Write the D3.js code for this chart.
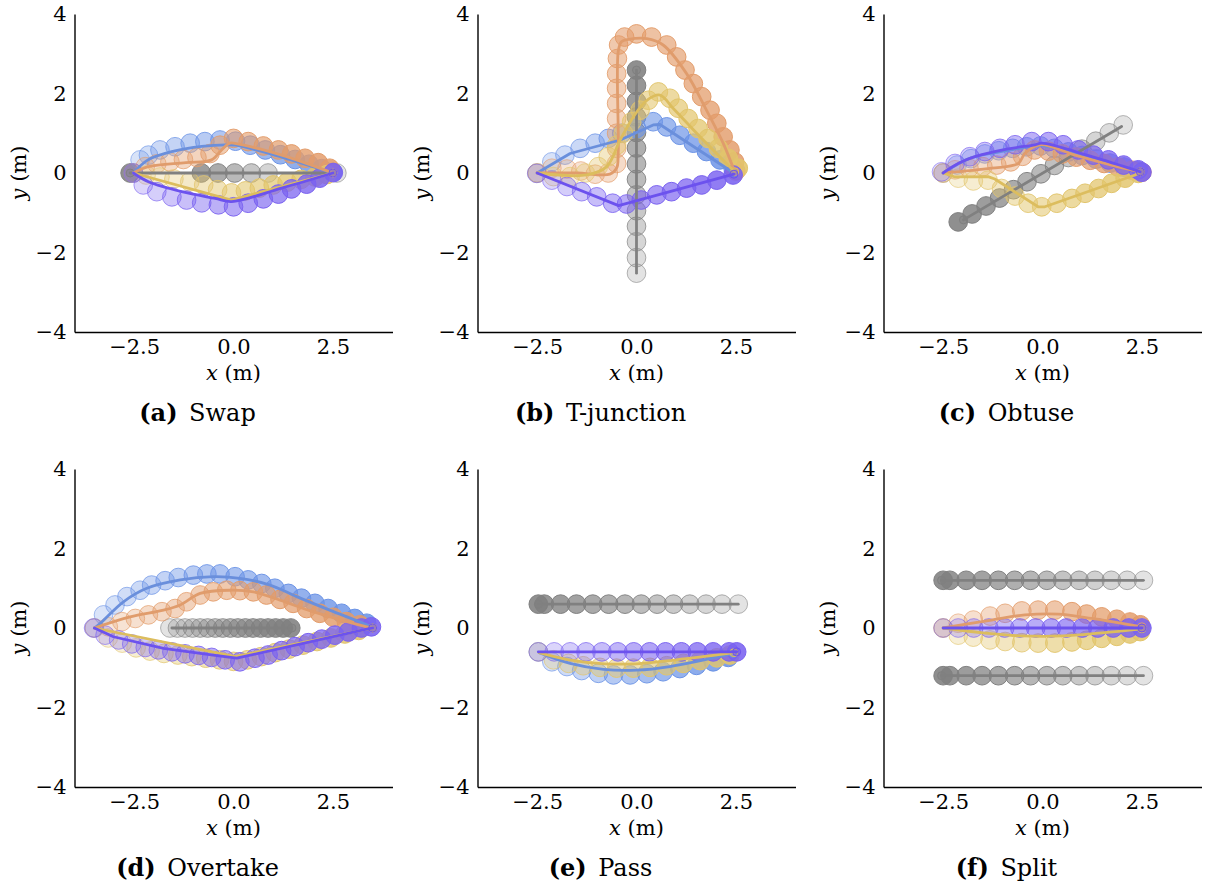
<!DOCTYPE html>
<html>
<head>
<meta charset="utf-8">
<script src="https://cdn.jsdelivr.net/npm/d3@7"></script>
<style>
body { margin: 0; background: #fff; }
text { font-family: "DejaVu Serif", serif; fill: #000; }
</style>
</head>
<body>
<svg id="fig" width="1206" height="888"></svg>
<script>
// tick values
var xTicks = [-2.5, 0, 2.5];
var yTicks = [-4, -2, 0, 2, 4];
var panelLetters = ["a", "b", "c", "d", "e", "f"];
var panelNames = ["Swap", "T-junction", "Obtuse", "Overtake", "Pass", "Split"];

// (a) swap : circles = sampled positions, *Path = drawn trajectory line
var swapGray = [[2.6,0],[0.87,0],[0.45,0],[0.03,0],[-0.39,0],[-0.81,0],[-2.6,0]];
var swapGrayPath = [[2.55,0],[-2.6,0]];
var swapBlue = [[-2.52,0],[-2.35,0.33],[-2.14,0.45],[-1.85,0.58],[-1.47,0.66],[-1.09,0.75],[-0.72,0.79],[-0.34,0.83],[0.05,0.8],[0.42,0.7],[0.8,0.58],[1.18,0.46],[1.55,0.34],[1.9,0.22],[2.22,0.11],[2.5,0.02]];
var swapBluePath = [[-2.52,0],[-2.15,0.33],[-1.5,0.55],[-0.8,0.67],[-0.2,0.71],[0.05,0.7],[1.04,0.45],[2.5,0]];
var swapOrange = [[-2.52,0],[-2.22,0.16],[-1.93,0.23],[-1.6,0.28],[-1.26,0.34],[-0.92,0.39],[-0.59,0.49],[-0.34,0.7],[0,0.87],[0.37,0.79],[0.75,0.68],[1.13,0.58],[1.46,0.48],[1.8,0.37],[2.13,0.26],[2.42,0.12]];
var swapOrangePath = [[-2.52,0],[-2.14,0.16],[-1.2,0.26],[-0.55,0.33],[-0.3,0.58],[-0.09,0.75],[0.1,0.73],[1.21,0.45],[2.5,0]];
var swapYellow = [[-2.2,-0.05],[-1.85,-0.1],[-1.5,-0.15],[-1.1,-0.22],[-0.75,-0.3],[-0.4,-0.42],[-0.05,-0.5],[0.3,-0.45],[0.65,-0.38],[1.0,-0.3],[1.35,-0.23],[1.7,-0.16],[2.05,-0.1],[2.35,-0.04]];
var swapYellowPath = [[-2.52,0],[-0.05,-0.68],[2.5,0]];
var swapPurple = [[-2.52,0],[-2.27,-0.3],[-1.93,-0.47],[-1.55,-0.6],[-1.18,-0.68],[-0.8,-0.75],[-0.38,-0.8],[0,-0.85],[0.37,-0.76],[0.75,-0.65],[1.13,-0.53],[1.46,-0.4],[1.84,-0.28],[2.17,-0.13],[2.51,0.01]];
var swapPurplePath = [[-2.52,0],[-2.14,-0.22],[-1.3,-0.47],[-0.46,-0.64],[-0.05,-0.72],[1.21,-0.38],[2.5,0]];

// (b) T-junction
var tjGray = [[0,-2.52],[0,-2.13],[0,-1.73],[0,-1.34],[0,-0.95],[0,-0.55],[0,-0.16],[0,0.23],[0,0.63],[0,1.02],[0,1.41],[0,1.8],[0,2.2],[0,2.59]];
var tjGrayPath = [[0,-2.52],[0,2.59]];
var tjBlue = [[-2.5,0],[-2.13,0.28],[-1.8,0.45],[-1.42,0.62],[-1.04,0.75],[-0.71,0.87],[-0.37,1.0],[0,1.12],[0.42,1.29],[0.76,1.16],[1.09,0.95],[1.43,0.75],[1.76,0.54],[2.1,0.33],[2.43,0.12]];
var tjBluePath = [[-2.5,0],[-1.67,0.49],[-0.41,0.83],[0.42,1.21],[0.59,1.22],[2.45,0]];
var tjOrange = [[-2.5,0],[-2.13,0.12],[-1.75,0.1],[-1.4,0.05],[-1.04,-0.03],[-0.71,0],[-0.5,0.24],[-0.5,0.62],[-0.5,1.0],[-0.5,1.37],[-0.5,1.75],[-0.5,2.13],[-0.5,2.5],[-0.48,2.88],[-0.45,3.22],[-0.3,3.42],[0,3.5],[0.38,3.42],[0.76,3.22],[1.01,2.92],[1.22,2.59],[1.43,2.25],[1.64,1.92],[1.85,1.58],[2.02,1.25],[2.18,0.91],[2.35,0.58],[2.47,0.28],[2.5,0.05]];
var tjOrangePath = [[-2.5,0],[-1.5,0],[-0.67,-0.03],[-0.5,0.12],[-0.46,0.5],[-0.46,3.05],[-0.38,3.3],[-0.2,3.36],[0.26,3.38],[0.67,3.22],[1.26,2.5],[1.76,1.58],[2.18,0.75],[2.47,0.03]];
var tjYellow = [[-2.5,0],[-2.09,-0.09],[-1.67,-0.09],[-1.29,0],[-0.96,0.16],[-0.71,0.41],[-0.5,0.7],[-0.33,1.0],[-0.12,1.29],[0.09,1.58],[0.3,1.83],[0.55,2.04],[0.84,1.88],[1.05,1.63],[1.3,1.37],[1.55,1.12],[1.8,0.87],[2.06,0.62],[2.31,0.37],[2.56,0.12]];
var tjYellowPath = [[-2.5,0],[-1.25,-0.05],[-0.75,0.16],[-0.41,0.83],[-0.08,1.41],[0.26,1.83],[0.59,1.96],[0.92,1.63],[1.6,0.91],[2.47,0.03]];
var tjPurple = [[-2.51,-0.01],[-2.13,-0.18],[-1.75,-0.34],[-1.38,-0.47],[-1.0,-0.6],[-0.6,-0.76],[-0.25,-0.78],[0.12,-0.68],[0.51,-0.55],[0.88,-0.47],[1.26,-0.38],[1.64,-0.3],[2.02,-0.18],[2.43,-0.05]];
var tjPurplePath = [[-2.5,0],[-0.45,-0.82],[2.45,-0.03]];

// (c) obtuse
var obGray = [[2.03,1.21],[1.68,1.01],[1.34,0.8],[0.99,0.6],[0.65,0.39],[0.3,0.19],[-0.04,-0.02],[-0.39,-0.22],[-0.73,-0.42],[-1.08,-0.63],[-1.42,-0.83],[-1.77,-1.03],[-2.12,-1.23]];
var obGrayPath = [[1.99,1.17],[-1.99,-1.18]];
var obBlue = [[-2.5,0],[-2.15,0.2],[-1.8,0.36],[-1.45,0.48],[-1.1,0.56],[-0.75,0.62],[-0.4,0.66],[-0.05,0.68],[0.3,0.62],[0.65,0.53],[1.0,0.44],[1.35,0.35],[1.7,0.25],[2.05,0.15],[2.4,0.05]];
var obBluePath = [[-2.5,0],[-1.8,0.38],[-0.9,0.56],[0,0.68],[1.2,0.38],[2.46,0.03]];
var obOrange = [[-2.5,0],[-2.2,0.08],[-1.85,0.12],[-1.5,0.16],[-1.15,0.2],[-0.8,0.28],[-0.5,0.42],[-0.2,0.58],[0.15,0.55],[0.5,0.48],[0.85,0.4],[1.2,0.32],[1.55,0.24],[1.9,0.15],[2.25,0.07],[2.5,0.02]];
var obOrangePath = [[-2.5,0],[-1.28,0.12],[-0.61,0.24],[-0.44,0.5],[-0.06,0.71],[0.82,0.45],[1.74,0.2],[2.46,0.03]];
var obYellow = [[-2.5,0],[-2.12,-0.13],[-1.74,-0.2],[-1.37,-0.18],[-1.03,-0.39],[-0.69,-0.58],[-0.36,-0.76],[-0.02,-0.85],[0.36,-0.76],[0.74,-0.64],[1.07,-0.51],[1.41,-0.39],[1.74,-0.26],[2.08,-0.13],[2.41,-0.01]];
var obYellowPath = [[-2.5,0],[-2.2,-0.1],[-1.37,-0.09],[-1.2,-0.15],[-0.11,-0.85],[0.06,-0.85],[2.33,-0.05],[2.46,0.03]];
var obPurple = [[-2.54,0.03],[-2.2,0.24],[-1.83,0.41],[-1.45,0.54],[-1.07,0.62],[-0.69,0.71],[-0.27,0.79],[0.15,0.79],[0.52,0.71],[0.9,0.58],[1.28,0.45],[1.66,0.33],[2.04,0.2],[2.41,0.08],[2.5,0.02]];
var obPurplePath = [[-2.5,0],[-2.1,0.25],[-1.7,0.41],[-0.9,0.6],[-0.19,0.71],[-0.02,0.75],[1.24,0.41],[2.46,0.03]];

// (d) overtake
var otGray = [[-1.6,0],[-1.41,0],[-1.22,0],[-1.03,0],[-0.84,0],[-0.65,0],[-0.46,0],[-0.27,0],[-0.08,0],[0.11,0],[0.3,0],[0.49,0],[0.68,0],[0.87,0],[1.06,0],[1.25,0],[1.44,0]];
var otGrayPath = [[-1.55,0],[1.47,0]];
var otBlue = [[-3.5,0],[-3.27,0.33],[-2.98,0.58],[-2.68,0.79],[-2.35,0.95],[-2.06,1.08],[-1.72,1.19],[-1.39,1.27],[-1.01,1.33],[-0.67,1.36],[-0.34,1.36],[0.04,1.29],[0.37,1.21],[0.71,1.12],[1.04,1.0],[1.38,0.87],[1.71,0.75],[2.05,0.62],[2.38,0.49],[2.72,0.37],[3.05,0.24],[3.35,0.12]];
var otBluePath = [[-3.5,0],[-3.35,0.12],[-2.77,0.66],[-2.18,1.0],[-1.34,1.21],[-0.51,1.29],[0.16,1.25],[0.92,1.08],[1.59,0.79],[2.42,0.45],[3.35,0.08],[3.5,0]];
var otOrange = [[-3.5,0],[-3.15,0.03],[-2.81,0.16],[-2.47,0.24],[-2.14,0.33],[-1.8,0.41],[-1.47,0.49],[-1.18,0.66],[-0.84,0.83],[-0.51,0.91],[-0.17,0.95],[0.16,0.94],[0.5,0.91],[0.83,0.83],[1.17,0.72],[1.5,0.62],[1.84,0.49],[2.17,0.37],[2.51,0.27],[2.84,0.16],[3.18,0.08]];
var otOrangePath = [[-3.5,0],[-2.6,0.28],[-1.76,0.45],[-1.34,0.58],[-0.84,0.87],[-0.09,0.95],[0.5,0.91],[1.17,0.7],[2.0,0.41],[3.35,0.03],[3.5,0]];
var otYellow = [[-3.15,-0.25],[-2.8,-0.38],[-2.45,-0.5],[-2.1,-0.58],[-1.75,-0.64],[-1.4,-0.68],[-1.05,-0.72],[-0.7,-0.76],[-0.35,-0.8],[0,-0.84],[0.35,-0.8],[0.7,-0.72],[1.05,-0.62],[1.4,-0.53],[1.75,-0.43],[2.1,-0.34],[2.45,-0.25],[2.8,-0.15],[3.15,-0.06]];
var otYellowPath = [[-3.5,0],[0.05,-0.72],[3.5,0]];
var otPurple = [[-3.52,0],[-3.23,-0.18],[-2.89,-0.3],[-2.56,-0.4],[-2.22,-0.49],[-1.89,-0.55],[-1.55,-0.6],[-1.22,-0.65],[-0.88,-0.69],[-0.55,-0.74],[-0.21,-0.8],[0.16,-0.85],[0.54,-0.76],[0.87,-0.68],[1.21,-0.57],[1.55,-0.47],[1.88,-0.37],[2.22,-0.28],[2.55,-0.18],[2.89,-0.1],[3.22,0],[3.47,0.03]];
var otPurplePath = [[-3.5,0],[-3.02,-0.22],[-1.76,-0.51],[-0.51,-0.68],[0.08,-0.76],[3.35,-0.03],[3.5,0]];

// (e) pass
var paGray = [[2.56,0.6],[2.15,0.6],[1.75,0.6],[1.34,0.6],[0.93,0.6],[0.52,0.6],[0.12,0.6],[-0.29,0.6],[-0.7,0.6],[-1.1,0.6],[-1.51,0.6],[-1.91,0.6],[-2.32,0.6],[-2.47,0.6]];
var paGrayPath = [[2.56,0.6],[-2.47,0.6]];
var paBlue = [[-2.47,-0.6],[-2.13,-0.85],[-1.75,-0.97],[-1.38,-1.07],[-0.96,-1.14],[-0.58,-1.18],[-0.16,-1.18],[0.26,-1.15],[0.67,-1.1],[1.09,-1.02],[1.51,-0.94],[1.93,-0.85],[2.31,-0.74]];
var paBluePath = [[-2.45,-0.62],[-1.67,-0.89],[-0.83,-1.04],[0,-1.06],[0.84,-0.97],[2.43,-0.64]];
var paYellow = [[-2.47,-0.6],[-2.09,-0.8],[-1.71,-0.89],[-1.34,-0.95],[-0.92,-0.99],[-0.5,-1.01],[-0.08,-1.01],[0.34,-0.99],[0.76,-0.95],[1.18,-0.89],[1.6,-0.82],[2.02,-0.75],[2.35,-0.68]];
var paYellowPath = [[-2.45,-0.62],[-1.7,-0.8],[-0.8,-0.9],[0,-0.9],[1.0,-0.8],[2.45,-0.62]];
var paPurple = [[-2.47,-0.6],[-2.07,-0.6],[-1.67,-0.6],[-1.27,-0.6],[-0.87,-0.6],[-0.47,-0.6],[-0.07,-0.6],[0.33,-0.6],[0.73,-0.6],[1.13,-0.6],[1.53,-0.6],[1.93,-0.6],[2.33,-0.6],[2.52,-0.6]];
var paPurplePath = [[-2.47,-0.6],[2.52,-0.6]];

// (f) split
var spGrayTop = [[2.54,1.2],[2.13,1.2],[1.73,1.2],[1.32,1.2],[0.92,1.2],[0.51,1.2],[0.11,1.2],[-0.3,1.2],[-0.7,1.2],[-1.11,1.2],[-1.52,1.2],[-1.92,1.2],[-2.33,1.2],[-2.5,1.2]];
var spGrayTopPath = [[2.54,1.2],[-2.54,1.2]];
var spGrayBottom = [[2.54,-1.2],[2.13,-1.2],[1.73,-1.2],[1.32,-1.2],[0.92,-1.2],[0.51,-1.2],[0.11,-1.2],[-0.3,-1.2],[-0.7,-1.2],[-1.11,-1.2],[-1.52,-1.2],[-1.92,-1.2],[-2.33,-1.2],[-2.5,-1.2]];
var spGrayBottomPath = [[2.54,-1.2],[-2.54,-1.2]];
var spOrange = [[-2.5,0],[-2.12,0.12],[-1.74,0.2],[-1.32,0.3],[-0.94,0.37],[-0.52,0.43],[-0.11,0.45],[0.31,0.45],[0.74,0.41],[1.11,0.35],[1.49,0.28],[1.87,0.22],[2.2,0.15],[2.46,0.08]];
var spOrangePath = [[-2.5,0],[-1.28,0.2],[-0.44,0.33],[0.4,0.35],[1.24,0.24],[1.74,0.16],[2.5,0.03]];
var spYellow = [[-2.5,0],[-2.12,-0.18],[-1.74,-0.23],[-1.32,-0.3],[-0.94,-0.34],[-0.52,-0.37],[-0.11,-0.38],[0.31,-0.38],[0.74,-0.35],[1.11,-0.31],[1.49,-0.26],[1.87,-0.21],[2.2,-0.15],[2.46,-0.09]];
var spYellowPath = [[-2.5,0],[-1.5,-0.12],[-0.5,-0.2],[0.5,-0.2],[1.5,-0.12],[2.5,-0.02]];
var spPurple = [[-2.5,0],[-2.12,0],[-1.73,0],[-1.35,0],[-0.95,0],[-0.57,0],[-0.17,0],[0.22,0],[0.6,0],[1.0,0],[1.39,0],[1.78,0],[2.17,0],[2.5,0]];
var spPurplePath = [[-2.5,0],[2.5,0]];

var fillColor = {gray: "#808080", blue: "#6b93e6", orange: "#e39c6a", yellow: "#e2c56c", purple: "#7a62f0"};
var lineColor = {gray: "#808080", blue: "#6a8fdc", orange: "#e09c6c", yellow: "#dcbd5e", purple: "#6c52ee"};

// polylines drawn with straight segments
var straightPaths = [swapYellowPath, tjPurplePath, tjBluePath, obYellowPath, otYellowPath, otPurplePath];

var panels = [
    [["gray", swapGray, swapGrayPath], ["blue", swapBlue, swapBluePath], ["orange", swapOrange, swapOrangePath], ["yellow", swapYellow, swapYellowPath], ["purple", swapPurple, swapPurplePath]],
    [["gray", tjGray, tjGrayPath], ["blue", tjBlue, tjBluePath], ["orange", tjOrange, tjOrangePath], ["yellow", tjYellow, tjYellowPath], ["purple", tjPurple, tjPurplePath]],
    [["gray", obGray, obGrayPath], ["blue", obBlue, obBluePath], ["orange", obOrange, obOrangePath], ["yellow", obYellow, obYellowPath], ["purple", obPurple, obPurplePath]],
    [["gray", otGray, otGrayPath], ["blue", otBlue, otBluePath], ["orange", otOrange, otOrangePath], ["yellow", otYellow, otYellowPath], ["purple", otPurple, otPurplePath]],
    [["gray", paGray, paGrayPath], ["blue", paBlue, paBluePath], ["yellow", paYellow, paYellowPath], ["purple", paPurple, paPurplePath]],
    [["gray", spGrayTop, spGrayTopPath], ["gray", spGrayBottom, spGrayBottomPath], ["orange", spOrange, spOrangePath], ["yellow", spYellow, spYellowPath], ["purple", spPurple, spPurplePath]]
];

var svg = d3.select("#fig");
var colX = [233.5, 636.5, 1042.5];   // pixel of x = 0 for each column
var rowY = [173, 628];               // pixel of y = 0 for each row
var half = 159;                      // 4 m in pixels
var agentR = 0.235;                  // body radius, m

panels.forEach(function(agents, p) {
    var cx = colX[p % 3], cy = rowY[Math.floor(p / 3)];
    var x = d3.scaleLinear().domain([-4, 4]).range([cx - half, cx + half]);
    var y = d3.scaleLinear().domain([-4, 4]).range([cy + half, cy - half]);
    var r = x(agentR) - x(0);
    var g = svg.append("g");

    // axes (left + bottom spines only, no tick marks)
    var xa = g.append("g").attr("transform", "translate(0," + (cy + half) + ")")
        .call(d3.axisBottom(x).tickValues(xTicks).tickFormat(d3.format(".1f")).tickSize(0).tickPadding(7));
    var ya = g.append("g").attr("transform", "translate(" + (cx - half) + ",0)")
        .call(d3.axisLeft(y).tickValues(yTicks).tickFormat(d3.format("d")).tickSize(0).tickPadding(8));
    [xa, ya].forEach(function(a) {
        a.select(".domain").attr("stroke", "#000").attr("stroke-width", 1.4);
        a.selectAll("text").style("font-family", "DejaVu Serif").style("font-size", "21px").attr("fill", "#000");
    });

    var xl = g.append("text").attr("x", cx).attr("y", cy + half + 48)
        .attr("text-anchor", "middle").style("font-size", "21px");
    xl.append("tspan").style("font-style", "italic").text("x");
    xl.append("tspan").text(" (m)");

    var yl = g.append("text").attr("transform", "translate(" + (cx - half - 49) + "," + cy + ") rotate(-90)")
        .attr("text-anchor", "middle").style("font-size", "21px");
    yl.append("tspan").style("font-style", "italic").text("y");
    yl.append("tspan").text(" (m)");

    var cap = g.append("text").attr("x", cx - 36).attr("y", cy + half + 89)
        .attr("text-anchor", "middle").style("font-size", "24px");
    cap.append("tspan").style("font-weight", "bold").text("(" + panelLetters[p] + ")");
    cap.append("tspan").attr("dx", 4).text(" " + panelNames[p]);

    // agent bodies, fading in over time
    agents.forEach(function(a) {
        var col = fillColor[a[0]], pts = a[1];
        var op = d3.scaleLinear().domain([0, pts.length - 1]).range([0.22, 0.88]);
        g.append("g").selectAll("circle").data(pts).enter().append("circle")
            .attr("cx", function(d) { return x(d[0]); })
            .attr("cy", function(d) { return y(d[1]); })
            .attr("r", r)
            .attr("fill", col)
            .attr("fill-opacity", function(d, i) { return op(i); })
            .attr("stroke", col)
            .attr("stroke-opacity", function(d, i) { return Math.min(1, op(i) + 0.35); })
            .attr("stroke-width", 1);
    });

    // trajectory lines on top
    agents.forEach(function(a) {
        var path = a[2];
        var curve = straightPaths.indexOf(path) >= 0 ? d3.curveLinear : d3.curveCatmullRom.alpha(0.5);
        var line = d3.line().x(function(d) { return x(d[0]); }).y(function(d) { return y(d[1]); }).curve(curve);
        g.append("path").attr("d", line(path))
            .attr("fill", "none")
            .attr("stroke", lineColor[a[0]])
            .attr("stroke-width", 2.8)
            .attr("stroke-linecap", "round")
            .attr("stroke-linejoin", "round");
        var end = path[path.length - 1];
        g.append("circle").attr("cx", x(end[0])).attr("cy", y(end[1])).attr("r", 4)
            .attr("fill", lineColor[a[0]]).attr("fill-opacity", 0.35)
            .attr("stroke", lineColor[a[0]]).attr("stroke-width", 1);
    });
});
</script>
</body>
</html>
